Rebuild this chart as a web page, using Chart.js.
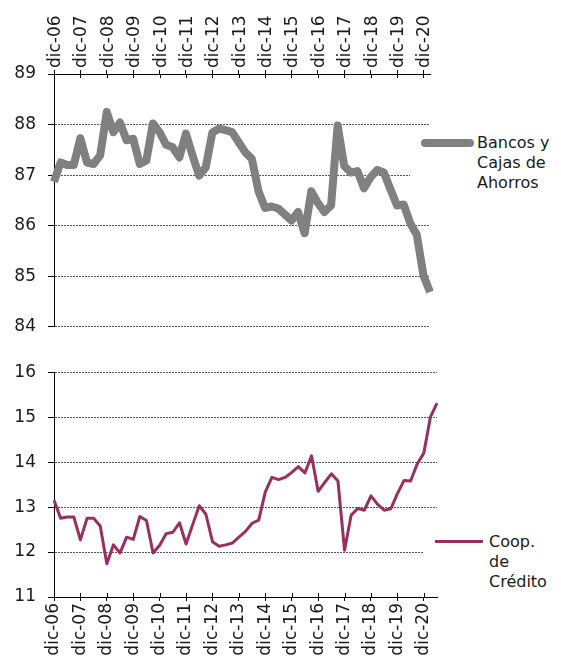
<!DOCTYPE html>
<html>
<head>
<meta charset="utf-8">
<script src="https://cdn.jsdelivr.net/npm/chart.js@4/dist/chart.umd.min.js"></script>
<style>
  body { margin: 0; background: #fff; font-family: "DejaVu Sans", sans-serif; }
  #wrap { position: relative; width: 561px; height: 660px; overflow: hidden; }
  canvas { position: absolute; left: 0; }
  .leg { position: absolute; background: #fff; font-size: 16px; line-height: 20px; color: #1a1a1a; }
  .sample { position: absolute; }
</style>
</head>
<body>
<div id="wrap">
  <canvas id="topChart" width="561" height="349" style="top:0"></canvas>
  <canvas id="bottomChart" width="561" height="310" style="top:350px"></canvas>

  <div class="leg" style="left:410px; top:130px; width:150px; height:66px;"></div>
  <div class="sample" style="left:421px; top:139px; width:53px; height:8px; border-radius:4px; background:#808080;"></div>
  <div class="leg" style="left:477px; top:133px;">Bancos y<br>Cajas de<br>Ahorros</div>

  <div class="leg" style="left:423px; top:528px; width:138px; height:64px;"></div>
  <div class="sample" style="left:435px; top:540px; width:48px; height:3px; background:#98305f;"></div>
  <div class="leg" style="left:489px; top:532px;">Coop.<br>de<br>Crédito</div>
</div>
<script>
// trimestres, de dic-06 a jun-21
const trimestres = [
  'dic-06',
  'mar-07', 'jun-07', 'sep-07', 'dic-07',
  'mar-08', 'jun-08', 'sep-08', 'dic-08',
  'mar-09', 'jun-09', 'sep-09', 'dic-09',
  'mar-10', 'jun-10', 'sep-10', 'dic-10',
  'mar-11', 'jun-11', 'sep-11', 'dic-11',
  'mar-12', 'jun-12', 'sep-12', 'dic-12',
  'mar-13', 'jun-13', 'sep-13', 'dic-13',
  'mar-14', 'jun-14', 'sep-14', 'dic-14',
  'mar-15', 'jun-15', 'sep-15', 'dic-15',
  'mar-16', 'jun-16', 'sep-16', 'dic-16',
  'mar-17', 'jun-17', 'sep-17', 'dic-17',
  'mar-18', 'jun-18', 'sep-18', 'dic-18',
  'mar-19', 'jun-19', 'sep-19', 'dic-19',
  'mar-20', 'jun-20', 'sep-20', 'dic-20',
  'mar-21', 'jun-21'
];

// Bancos y Cajas de Ahorros (hasta mar-21)
const bancos = [
  86.87,
  87.25, 87.20, 87.20, 87.73,
  87.25, 87.22, 87.39, 88.25,
  87.85, 88.04, 87.69, 87.72,
  87.22, 87.29, 88.02, 87.85,
  87.60, 87.55, 87.35, 87.82,
  87.39, 86.99, 87.15, 87.84,
  87.92, 87.89, 87.85, 87.65,
  87.45, 87.32, 86.68, 86.35,
  86.38, 86.34, 86.22, 86.10,
  86.27, 85.85, 86.68, 86.45,
  86.27, 86.40, 87.98, 87.18,
  87.05, 87.08, 86.74, 86.96,
  87.10, 87.05, 86.72, 86.40,
  86.42, 86.05, 85.82, 85.02,
  84.69
];

// Coop. de Crédito (hasta jun-21)
const coop = [
  13.15,
  12.75, 12.78, 12.78, 12.27,
  12.75, 12.75, 12.58, 11.74,
  12.16, 11.98, 12.33, 12.28,
  12.79, 12.70, 11.98, 12.15,
  12.41, 12.44, 12.65, 12.18,
  12.61, 13.03, 12.84, 12.23,
  12.13, 12.16, 12.20, 12.33,
  12.46, 12.64, 12.71, 13.34,
  13.66, 13.61, 13.66, 13.77,
  13.90, 13.76, 14.14, 13.35,
  13.55, 13.74, 13.58, 12.04,
  12.82, 12.97, 12.93, 13.25,
  13.06, 12.93, 12.96, 13.30,
  13.59, 13.58, 13.96, 14.20,
  15.00, 15.31
];

const ejeBancos = [84, 89];
const ejeCoop = [11, 16];

const FONT = '"DejaVu Sans", sans-serif';

// marcas del eje X que cruzan la línea (hacia dentro del gráfico)
const crossTicks = {
  id: 'crossTicks',
  afterDraw(chart) {
    const x = chart.scales.x;
    const ctx = chart.ctx;
    const y0 = x.position === 'top' ? chart.chartArea.top : chart.chartArea.bottom;
    const dir = x.position === 'top' ? 1 : -1;
    ctx.save();
    ctx.strokeStyle = '#000';
    ctx.lineWidth = 1;
    chart.data.labels.forEach((lab, i) => {
      if (!lab.startsWith('dic')) return;
      const px = Math.round(x.getPixelForValue(i)) + 0.5;
      ctx.beginPath();
      ctx.moveTo(px, y0);
      ctx.lineTo(px, y0 + dir * 4);
      ctx.stroke();
    });
    ctx.restore();
  }
};

function makeChart(id, labels, data, color, width, range, xPos, xHeight, padding, labelOffset) {
  return new Chart(document.getElementById(id), {
    type: 'line',
    data: {
      labels: labels,
      datasets: [{
        data: data,
        borderColor: color,
        borderWidth: width,
        borderJoinStyle: 'round',
        pointRadius: 0,
        tension: 0,
        fill: false
      }]
    },
    options: {
      responsive: false,
      animation: false,
      devicePixelRatio: 1,
      layout: { padding: padding },
      plugins: { legend: { display: false }, tooltip: { enabled: false } },
      scales: {
        x: {
          position: xPos,
          afterFit: s => { s.height = xHeight; },
          grid: { drawOnChartArea: false, drawTicks: true, tickLength: 4, color: '#000' },
          border: { color: '#000', width: 1 },
          ticks: {
            autoSkip: false,
            minRotation: 90,
            maxRotation: 90,
            padding: 2,
            labelOffset: labelOffset,
            color: '#1a1a1a',
            font: { family: FONT, size: 17 },
            callback: function (v, i) {
              const l = labels[i];
              return l.startsWith('dic') ? l : null;
            }
          }
        },
        y: {
          min: range[0],
          max: range[1],
          afterFit: s => { s.width = 54; },
          grid: { color: '#555', lineWidth: 1, tickLength: 6, tickColor: '#000', tickBorderDash: [] },
          border: { color: '#000', width: 1, dash: [2, 1] },
          ticks: {
            stepSize: 1,
            padding: 12,
            color: '#1a1a1a',
            font: { family: FONT, size: 17 }
          }
        }
      }
    },
    plugins: [crossTicks]
  });
}

makeChart('topChart', trimestres.slice(0, bancos.length), bancos, '#808080', 8, ejeBancos,
  'top', 74, { left: 0, right: 131, top: 0, bottom: 0 }, 22);
makeChart('bottomChart', trimestres, coop, '#98305f', 3, ejeCoop,
  'bottom', 63, { left: 0, right: 124, top: 16, bottom: 0 }, 0);
</script>
</body>
</html>
